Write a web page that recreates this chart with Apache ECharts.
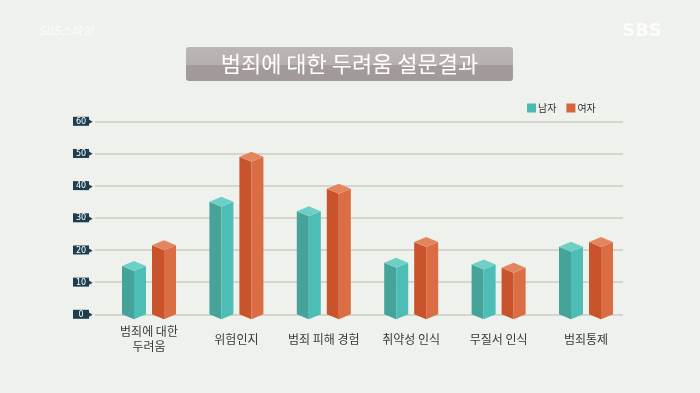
<!DOCTYPE html>
<html><head><meta charset="utf-8">
<script src="https://cdn.jsdelivr.net/npm/echarts@6/dist/echarts.min.js"></script>
<style>html,body{margin:0;padding:0;background:#eff1ec;}#c{width:700px;height:393px;}</style>
</head><body><div id="c"></div>
<script>
const categories = ['범죄에 대한\n두려움', '위험인지', '범죄 피해 경험', '취약성 인식', '무질서 인식', '범죄통제'];
const maleValues = [15, 35, 32, 16, 15.5, 21];
const femaleValues = [21.5, 49, 39, 22.5, 14.5, 22.5];
const seriesNames = ['남자', '여자'];
const titleText = '범죄에 대한 두려움 설문결과';

const FONT = '"Noto Sans CJK KR", "Noto Sans", sans-serif';
const chart = echarts.init(document.getElementById('c'), null, {renderer: 'canvas'});

function makeRender(offset, cLeft, cRight, cTop) {
  return function (params, api) {
    const cat = api.value(0), val = api.value(1);
    const top = api.coord([cat, val]);
    const base = api.coord([cat, 0]);
    const cx = top[0] + offset, x0 = cx - 12, x1 = cx + 12;
    const yT = top[1], y0 = base[1], d = 5;
    return {
      type: 'group',
      children: [
        {type: 'polygon', shape: {points: [[x0, yT], [cx, yT + d], [cx, y0 + d], [x0, y0]]}, style: {fill: cLeft}},
        {type: 'polygon', shape: {points: [[cx, yT + d], [x1, yT], [x1, y0], [cx, y0 + d]]}, style: {fill: cRight}},
        {type: 'polygon', shape: {points: [[x0, yT], [cx, yT - d], [x1, yT], [cx, yT + d]]}, style: {fill: cTop}}
      ]
    };
  };
}

const option = {
  backgroundColor: '#eff1ec',
  animation: false,
  textStyle: {fontFamily: FONT},
  grid: [
    {left: 95, right: 77, top: 121.3, bottom: 78.7},
    {left: 105.3, right: 70.3, top: 121.3, bottom: 78.7}
  ],
  legend: {
    left: 522, top: 98, itemWidth: 9, itemHeight: 9, itemGap: 10,
    icon: 'rect',
    textStyle: {fontSize: 10, color: '#333', fontFamily: FONT, padding: [0, 0, 0, -3]},
    data: seriesNames
  },
  xAxis: [
    {gridIndex: 0, type: 'value', show: false, min: 0, max: 1},
    {gridIndex: 1, type: 'category', data: categories,
      axisLine: {show: false}, axisTick: {show: false},
      axisLabel: {margin: 25, verticalAlign: 'middle', fontSize: 12, lineHeight: 15, color: '#3a3a3a', fontFamily: FONT, interval: 0}}
  ],
  yAxis: [
    {gridIndex: 0, type: 'value', min: 0, max: 60, interval: 10,
      axisLine: {show: false}, axisTick: {show: false},
      splitLine: {lineStyle: {color: '#cacbc4', width: 1.5}},
      axisLabel: {
        margin: 2,
        formatter: v => '{b|' + v + '}{t|▶}',
        rich: {
          b: {backgroundColor: '#1c3e4d', color: '#fff', fontSize: 8, width: 16, align: 'center', padding: [1, 0, 0, 0], height: 8, lineHeight: 8, fontFamily: 'DejaVu Sans'},
          t: {color: '#1c3e4d', fontSize: 5, padding: [0, 0, 0, -1]}
        }
      }},
    {gridIndex: 1, type: 'value', min: 0, max: 60, show: false}
  ],
  series: [
    {name: seriesNames[0], type: 'custom', xAxisIndex: 1, yAxisIndex: 1,
      itemStyle: {color: '#4bbab1'},
      renderItem: makeRender(-15, '#45a39a', '#4dbeb5', '#6dcfc5'),
      data: maleValues.map((v, i) => [i, v])},
    {name: seriesNames[1], type: 'custom', xAxisIndex: 1, yAxisIndex: 1,
      itemStyle: {color: '#d6653c'},
      renderItem: makeRender(15, '#c9532b', '#da6d43', '#e3865f'),
      data: femaleValues.map((v, i) => [i, v])}
  ],
  graphic: [
    {type: 'rect', left: 186, top: 47, shape: {width: 327, height: 34, r: 3},
      style: {fill: new echarts.graphic.LinearGradient(0, 0, 0, 1, [
        {offset: 0, color: '#bbb6b5'}, {offset: 0.52, color: '#b6b0af'},
        {offset: 0.53, color: '#a49c9b'}, {offset: 1, color: '#a0989a'}])}},
    {type: 'text', x: 349.5, y: 64, style: {text: titleText, fill: '#ffffff', fontSize: 22, fontFamily: FONT, align: 'center', verticalAlign: 'middle'}},
    {type: 'text', x: 38, y: 30, style: {text: 'SBS스페셜', fill: 'rgba(255,255,255,0.75)', fontSize: 12, fontStyle: 'italic', fontFamily: FONT, verticalAlign: 'middle'}},
    {type: 'text', x: 642, y: 31, style: {text: 'SBS', fill: 'rgba(255,255,255,0.8)', fontSize: 18, fontWeight: 'bold', fontFamily: 'DejaVu Sans', align: 'center', verticalAlign: 'middle'}}
  ]
};
chart.setOption(option);
</script>
</body></html>
